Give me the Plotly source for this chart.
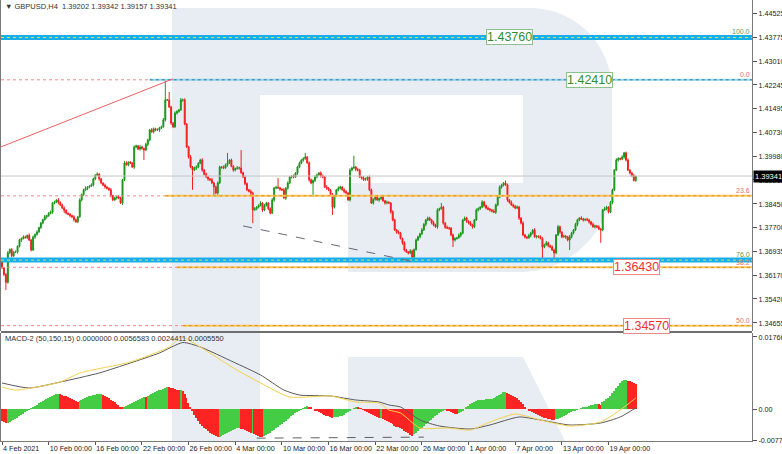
import plotly.graph_objects as go

# ---------------- DATA ----------------
# H4 bars, prices in pips (1e-4)
first_open_pips = 13660
close_pips = [
    13641,13620,13595,13689,13700,13680,13692,13692,13710,13730,
    13735,13740,13738,13745,13730,13698,13740,13748,13756,13770,
    13784,13795,13804,13808,13815,13819,13848,13851,13858,13850,
    13842,13832,13825,13816,13812,13808,13804,13795,13788,13804,
    13858,13875,13890,13895,13899,13902,13906,13925,13937,13940,
    13925,13912,13905,13899,13895,13890,13872,13858,13864,13868,
    13864,13848,13922,13976,13970,13978,13976,13963,14027,14030,
    14020,14027,14022,14017,14035,14049,14081,14075,14085,14081,
    14081,14088,14091,14113,14177,14177,14154,14103,14091,14135,
    14140,14145,14177,14177,14100,14027,13995,13963,13953,13960,
    13963,13975,13985,13953,13940,13931,13925,13922,13912,13900,
    13880,13912,13963,13962,13960,13970,13976,13985,13965,13953,
    13958,13960,13960,13945,13931,13910,13890,13885,13880,13826,
    13830,13835,13840,13848,13826,13840,13848,13830,13816,13858,
    13896,13898,13896,13892,13890,13864,13895,13912,13931,13933,
    13931,13944,13963,13975,13985,13990,13995,13976,13922,13912,
    13920,13931,13938,13944,13935,13931,13899,13895,13890,13875,
    13835,13870,13890,13895,13899,13890,13885,13880,13858,13953,
    13960,13963,13955,13953,13931,13928,13922,13925,13931,13890,
    13848,13860,13867,13858,13862,13867,13855,13848,13850,13848,
    13820,13794,13762,13755,13752,13735,13721,13698,13692,13689,
    13695,13676,13700,13730,13740,13750,13762,13780,13794,13800,
    13794,13785,13778,13772,13826,13830,13835,13784,13770,13768,
    13768,13746,13730,13735,13737,13745,13752,13794,13800,13790,
    13784,13778,13772,13794,13826,13830,13835,13851,13840,13832,
    13828,13826,13822,13819,13842,13867,13899,13905,13912,13906,
    13858,13850,13842,13838,13832,13835,13800,13784,13746,13740,
    13737,13745,13752,13762,13740,13742,13740,13735,13708,13715,
    13721,13712,13708,13698,13689,13746,13772,13755,13740,13742,
    13740,13730,13740,13752,13762,13780,13794,13800,13797,13794,
    13796,13794,13788,13780,13772,13775,13772,13765,13762,13826,
    13830,13835,13819,13850,13890,13953,13985,13990,13988,13995,
    14008,13985,13953,13944,13935,13920,13934,
]
upper_wick_pips = [
    4,3,5,6,3,4,2,5,3,4, 3,5,4,2,6,3,4,3,5,2, 4,3,6,2,4,5,3,4,2,6,
    3,4,5,3,2,4,3,5,4,3, 5,3,4,6,3,2,5,4,3,6, 4,3,2,5,4,3,6,2,4,3,
    5,4,3,6,5,3,4,2,5,4, 3,6,4,3,5,4,3,6,4,3, 5,3,4,6,63,3,25,4,3,5,
    4,3,6,4,5,3,4,6,3,4, 5,3,4,6,3,5,4,3,6,4, 3,5,4,3,6,4,32,3,5,4,
    3,6,4,57,3,5,4,3,6,4, 5,3,4,6,3,5,4,3,4,6, 3,5,30,4,3,6,4,5,3,4,
    6,3,4,5,3,4,13,3,5,4, 3,6,4,3,5,4,3,6,4,3, 5,4,3,6,4,3,5,4,3,6,
    4,36,3,5,4,3,6,4,3,5, 4,3,6,4,3,5,4,3,6,4, 3,5,4,3,6,4,3,5,4,3,
    6,4,3,5,4,3,6,4,3,5, 4,3,6,4,5,3,13,4,3,6, 4,3,5,4,3,6,4,3,5,4,
    3,6,4,3,5,4,3,6,4,3, 5,4,3,6,4,3,5,4,3,8, 4,3,6,4,3,5,4,3,6,4,
    3,5,4,3,6,4,3,5,4,3, 6,4,3,5,4,3,6,4,3,5, 4,3,6,4,3,5,4,3,6,4,
    3,5,4,3,6,4,3,5,4,3, 6,4,3,5,4,3,6,4,3,5, 3,4,5,3,4,6,0,
]
lower_wick_pips = [
    3,5,24,4,3,6,4,3,5,4, 6,3,4,5,3,4,3,6,4,3, 5,4,3,6,4,3,5,4,3,6,
    4,3,9,4,3,5,4,6,3,4, 3,5,4,3,6,4,3,5,4,3, 6,4,3,5,4,3,6,4,3,5,
    4,3,6,4,3,5,4,3,6,4, 3,5,4,32,3,6,4,3,5,4, 3,6,4,3,5,4,3,6,4,3,
    5,4,3,6,4,3,5,4,63,3, 6,4,3,5,4,3,6,4,3,27, 4,13,3,5,4,3,6,4,3,5,
    4,3,6,4,3,5,4,3,6,42, 3,5,4,3,6,4,3,5,4,3, 6,4,3,5,4,3,6,4,3,5,
    4,3,6,4,3,5,4,3,6,4, 45,5,4,3,6,4,3,5,4,3, 25,4,3,5,4,3,6,4,3,5,
    4,3,6,4,3,5,4,3,6,4, 3,5,4,3,6,4,3,5,4,3, 6,4,3,5,4,3,6,4,3,5,
    4,16,6,4,3,5,4,3,6,4, 3,5,4,3,6,4,3,5,4,3, 6,4,22,5,4,3,6,4,3,5,
    4,3,6,4,3,5,4,3,6,4, 3,5,4,3,6,4,3,5,4,3, 6,4,3,5,4,3,6,4,3,5,
    4,3,6,4,3,5,4,3,35,4, 3,5,4,3,16,4,3,5,4,3, 6,4,32,5,4,3,6,4,3,5,
    4,3,6,4,3,5,4,3,41,4, 3,5,4,3,6,4,3,5,4,3, 6,4,3,5,4,3,4,
]
# MACD histogram in 1e-5 units
macd_hist_e5 = [
    -290,-320,-345,-335,-310,-290,-265,-240,-210,-180,
    -150,-115,-80,-45,-10,20,50,80,110,140,
    165,190,220,250,280,305,330,350,362,370,
    360,345,330,310,290,270,245,220,195,175,
    190,215,240,265,290,310,330,345,355,362,
    368,372,355,330,300,265,230,195,160,125,
    90,60,35,50,75,100,125,150,175,200,
    225,250,275,300,290,320,345,370,395,415,
    435,455,475,495,520,550,530,520,505,490,
    470,455,460,445,380,270,150,40,-60,-150,
    -230,-300,-360,-410,-460,-500,-540,-580,-615,-645,
    -670,-690,-675,-655,-630,-605,-580,-555,-530,-505,
    -485,-470,-465,-480,-500,-520,-545,-570,-590,-585,
    -615,-640,-660,-680,-690,-670,-640,-610,-580,-545,
    -510,-475,-440,-400,-360,-325,-290,-250,-215,-180,
    -145,-110,-80,-50,-20,20,55,75,60,30,
    0,-25,-50,-75,-100,-120,-140,-160,-180,-200,
    -215,-205,-200,-190,-175,-160,-140,-110,-70,-30,
    0,20,30,25,15,5,-20,-45,-70,-95,
    -120,-145,-170,-195,-215,-210,-235,-260,-290,-320,
    -350,-380,-405,-430,-450,-470,-500,-530,-565,-600,
    -630,-660,-620,-580,-540,-500,-460,-420,-380,-340,
    -300,-260,-220,-180,-140,-100,-65,-35,-15,-40,
    -60,-80,-100,-115,-120,-110,-70,-40,0,40,
    80,120,150,175,195,210,220,225,230,235,
    240,245,255,270,290,320,350,380,405,420,
    400,380,355,330,300,265,225,180,120,60,
    0,-30,-60,-85,-110,-130,-150,-170,-190,-210,
    -225,-240,-255,-265,-275,-255,-235,-215,-195,-175,
    -155,-130,-105,-80,-55,-35,-15,0,15,30,
    45,60,75,90,105,115,125,115,110,160,
    200,240,280,330,390,450,510,570,630,680,
    705,710,695,675,655,635,615,
]
macd_grey_x = [0,14,30,50,66,81,93,102,119,133,145,153,169,182,194,199,205,215,225,241,251,266,277,292,308,318,326]
macd_grey_e5 = [638,515,662,883,1128,1374,1630,1521,1153,834,466,343,319,221,172,98,49,-270,-417,-491,-392,-196,-270,-392,-343,-196,25]
macd_yellow_x = [0,7,30,40,66,86,92,102,119,133,148,169,182,194,199,205,215,230,241,251,264,277,292,308,318,326]
macd_yellow_e5 = [540,466,662,883,1153,1521,1766,1521,1006,638,294,319,172,147,-25,-98,-466,-466,-515,-319,-123,-270,-417,-319,-25,270]

date_ticks = [0,24,48,72,96,120,144,168,192,216,240,264,288,312]
date_labels = ["4 Feb 2021","10 Feb 00:00","16 Feb 00:00","22 Feb 00:00","26 Feb 00:00",
               "4 Mar 00:00","10 Mar 00:00","16 Mar 00:00","22 Mar 00:00","26 Mar 00:00",
               "1 Apr 00:00","7 Apr 00:00","13 Apr 00:00","19 Apr 00:00"]
price_ticks = [1.44525,1.43775,1.43010,1.42245,1.41495,1.40730,1.39980,1.39215,
               1.38450,1.37700,1.36935,1.36170,1.35420,1.34655]
macd_ticks = [0.017662, 0.0, -0.00774]
macd_tick_labels = ["0.0176620", "0.00", "-0.007740"]

level_blue_top = 1.4376
level_blue_low = 1.3666
fib_0 = 1.4241
fib_236 = 1.3871
fib_382 = 1.3643
fib_50 = 1.3457
current_price = 1.39341
fib_start_bar = [76, 84, 90, 93]          # where the fib lines begin (bar index)
red_trend = ([-0.5, 88], [1.4027, 1.4244])
grey_dash = ([124, 212.4], [1.3775, 1.3660])
macd_dash = ([131, 217], [-0.00715, -0.0069])

# ---------------- BUILD ----------------
closes = [c / 1e4 for c in close_pips]
opens = [first_open_pips / 1e4] + closes[:-1]
highs = [max(o, c) + w / 1e4 for o, c, w in zip(opens, closes, upper_wick_pips)]
lows = [min(o, c) - w / 1e4 for o, c, w in zip(opens, closes, lower_wick_pips)]
idx = list(range(len(closes)))
hist = [h / 1e5 for h in macd_hist_e5]
hist_colors = ["#ff2424" if (i == 0 or hist[i] < hist[i - 1]) else "#44cc44" for i in range(len(hist))]

W, H = 782, 454
ML, MR, MT, MB = 1, 30, 0, 13
PW, PH = W - ML - MR, H - MT - MB
XR = [-0.514, 385.8]
main_bottom_px, macd_top_px = 331, 333

def px(xp, yp):
    return f"{(xp - ML) / PW:.5f},{1 - yp / PH:.5f}"

FONT = "Liberation Sans"
fig = go.Figure()

fig.add_trace(go.Candlestick(
    x=idx, open=opens, high=highs, low=lows, close=closes,
    increasing=dict(line=dict(color="#1c961c", width=1), fillcolor="#1c961c"),
    decreasing=dict(line=dict(color="#f42020", width=1), fillcolor="#f42020"),
    whiskerwidth=0, xaxis="x", yaxis="y", hoverinfo="skip", showlegend=False))

fig.add_trace(go.Bar(x=idx, y=hist, marker=dict(color=hist_colors, line=dict(width=0)),
                     width=0.75, xaxis="x2", yaxis="y2", showlegend=False, hoverinfo="skip"))
fig.add_trace(go.Scatter(x=macd_grey_x, y=[v / 1e5 for v in macd_grey_e5], mode="lines",
                         line=dict(color="#5a5a5a", width=1, shape="spline", smoothing=0.6),
                         xaxis="x2", yaxis="y2", showlegend=False, hoverinfo="skip"))
fig.add_trace(go.Scatter(x=macd_yellow_x, y=[v / 1e5 for v in macd_yellow_e5], mode="lines",
                         line=dict(color="#f5d24a", width=1, shape="spline", smoothing=0.6),
                         xaxis="x2", yaxis="y2", showlegend=False, hoverinfo="skip"))

shapes = []
# watermark logo
wm = ("M " + px(172, 8) + " L " + px(530, 8) + " C " + px(575.3, 8) + " " + px(612, 44.7) + " " + px(612, 90)
      + " L " + px(612, 180) + " C " + px(612, 230.8) + " " + px(570.8, 272) + " " + px(520, 272)
      + " L " + px(348, 272) + " L " + px(348, 183) + " L " + px(523, 183) + " L " + px(523, 95)
      + " L " + px(260, 95) + " L " + px(260, 441) + " L " + px(172, 441) + " Z")
leg = "M " + px(348, 357) + " L " + px(523, 357) + " L " + px(565, 441) + " L " + px(348, 441) + " Z"
for p in (wm, leg):
    shapes.append(dict(type="path", path=p, xref="paper", yref="paper", fillcolor="#e8ecf3",
                       line=dict(width=0), layer="below"))

def hline(x0, x1, y, color, width, dash="solid", xref="x", yref="y"):
    shapes.append(dict(type="line", xref=xref, yref=yref, x0=x0, x1=x1, y0=y, y1=y,
                       line=dict(color=color, width=width, dash=dash), layer="above"))

hline(XR[0], XR[1], current_price, "#c6c6c6", 1)
# blue thick levels
for lv in (level_blue_top, level_blue_low):
    hline(XR[0], XR[1], lv, "#16b0e8", 5)
    hline(XR[0], XR[1], lv, "#d6e35a", 1, "dot")
# fib 0.0
hline(XR[0], fib_start_bar[0], fib_0, "#f08a8a", 1, "dot")
hline(fib_start_bar[0], XR[1], fib_0, "#94d6f0", 2)
hline(fib_start_bar[0], XR[1], fib_0, "#2f7ea2", 1, "dot")
# fib orange levels
for lv, sb in ((fib_236, fib_start_bar[1]), (fib_382, fib_start_bar[2]), (fib_50, fib_start_bar[3])):
    hline(XR[0], sb, lv, "#f08a8a", 1, "dot")
    hline(sb, XR[1], lv, "#fcc86a", 2)
    hline(sb, XR[1], lv, "#e08c00", 1, "dot")

shapes.append(dict(type="line", xref="x", yref="y", x0=red_trend[0][0], x1=red_trend[0][1],
                   y0=red_trend[1][0], y1=red_trend[1][1], line=dict(color="#f06060", width=1), layer="above"))
shapes.append(dict(type="line", xref="x", yref="y", x0=grey_dash[0][0], x1=grey_dash[0][1],
                   y0=grey_dash[1][0], y1=grey_dash[1][1], line=dict(color="#666677", width=1, dash="dash"),
                   layer="above"))
shapes.append(dict(type="line", xref="x2", yref="y2", x0=macd_dash[0][0], x1=macd_dash[0][1],
                   y0=macd_dash[1][0], y1=macd_dash[1][1], line=dict(color="#606060", width=1, dash="dash"),
                   layer="above"))
# panel separator
shapes.append(dict(type="line", xref="paper", yref="paper", x0=0, x1=1,
                   y0=1 - 332 / PH, y1=1 - 332 / PH, line=dict(color="#6e6e6e", width=2), layer="above"))

ann = []
def label_box(x, y, text, color, border):
    ann.append(dict(x=x, y=y, xref="x", yref="y", text=text, showarrow=False,
                    font=dict(family=FONT, size=12.5, color=color), bgcolor="white",
                    bordercolor=border, borderwidth=1, borderpad=0))

label_box(261.3, level_blue_top, "1.43760", "#2f8f2f", "#8cc08c")
label_box(302.2, fib_0, "1.42410", "#2f8f2f", "#8cc08c")
label_box(326.6, fib_382, "1.36430", "#f03030", "#f08888")
label_box(331.5, fib_50, "1.34570", "#f03030", "#f08888")

def fib_text(y, text, color):
    ann.append(dict(x=1, y=y, xref="paper", yref="y", text=text, showarrow=False,
                    xanchor="right", yanchor="bottom", font=dict(family=FONT, size=7, color=color)))

fib_text(level_blue_top, "100.0", "#5aa05a")
fib_text(fib_0, "0.0", "#e87070")
fib_text(fib_236, "23.6", "#e87070")
fib_text(level_blue_low, "76.0", "#5aa05a")
fib_text(fib_382 - 0.0001, "38.2", "#e87070")
fib_text(fib_50, "50.0", "#e87070")

ann.append(dict(x=1, y=current_price, xref="paper", yref="y", text="1.39341", showarrow=False,
                xanchor="left", font=dict(family=FONT, size=7.5, color="white"), bgcolor="black",
                borderpad=1, xshift=1))
ann.append(dict(x=0.003, y=1 - 6 / PH, xref="paper", yref="paper", xanchor="left", yanchor="middle",
                text="\u25bc GBPUSD,H4  1.39202 1.39342 1.39157 1.39341", showarrow=False,
                font=dict(family=FONT, size=7.5, color="#333333")))
ann.append(dict(x=0.003, y=1 - 338 / PH, xref="paper", yref="paper", xanchor="left", yanchor="middle",
                text="MACD-2 (50,150,15) 0.0000000 0.0056583 0.0024411 0.0005550", showarrow=False,
                font=dict(family=FONT, size=7.5, color="#333333")))

axis_common = dict(showgrid=False, zeroline=False, linecolor="#7a7a7a", automargin=False,
                   tickfont=dict(family=FONT, size=7.2, color="#222222"))
fig.update_layout(
    width=W, height=H, autosize=False, margin=dict(l=ML, r=MR, t=MT, b=MB),
    paper_bgcolor="white", plot_bgcolor="rgba(0,0,0,0)", showlegend=False,
    shapes=shapes, annotations=ann, bargap=0,
    xaxis=dict(domain=[0, 1], anchor="y", range=XR, showticklabels=False, ticks="",
               rangeslider=dict(visible=False), showline=False, **axis_common),
    yaxis=dict(domain=[1 - main_bottom_px / PH, 1], anchor="x", side="right",
               range=[1.34399, 1.449555], tickvals=price_ticks,
               ticktext=[f"{t:.5f}" for t in price_ticks], ticks="outside", ticklen=4,
               tickcolor="#555555", showline=True, mirror=True, **axis_common),
    xaxis2=dict(domain=[0, 1], anchor="y2", range=XR, tickvals=date_ticks, ticktext=date_labels,
                ticks="outside", ticklen=3, tickcolor="#555555", ticklabelposition="outside right",
                tickangle=0, showline=True, **axis_common),
    yaxis2=dict(domain=[0, 1 - macd_top_px / PH], anchor="x2", side="right",
                range=[-0.00785, 0.01864], tickvals=macd_ticks, ticktext=macd_tick_labels,
                ticks="outside", ticklen=4, tickcolor="#555555", showline=True, mirror=True,
                **axis_common),
)
fig.write_html("out.html", config={"displayModeBar": False},
               post_script="document.body.style.margin='0';document.body.style.padding='0';")
